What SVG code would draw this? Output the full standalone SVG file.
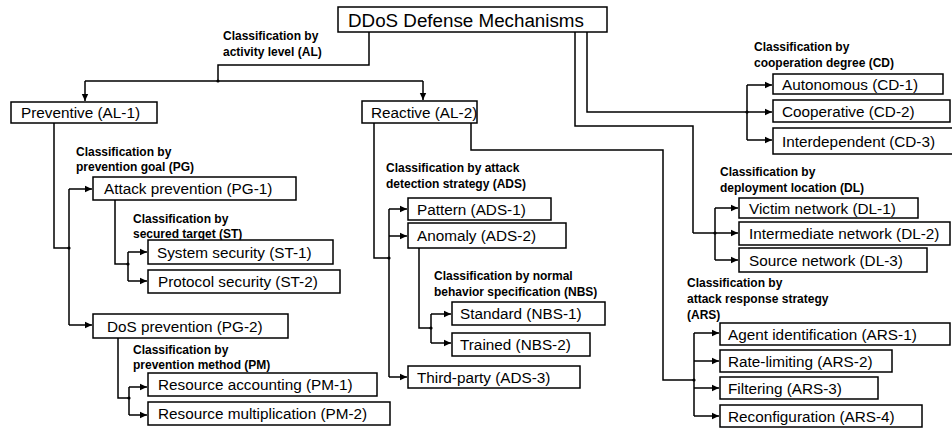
<svg xmlns="http://www.w3.org/2000/svg" width="952" height="430" viewBox="0 0 952 430">
<defs>
<marker id="ah" markerWidth="8" markerHeight="8" refX="7" refY="4" orient="auto" markerUnits="userSpaceOnUse">
<path d="M0,0.8 L7,4 L0,7.2 Z" fill="#000"/>
</marker>
<style>
.b{fill:#fff;stroke:#000;stroke-width:1.5}
.t{font-family:"Liberation Sans",Arial,sans-serif;font-size:15.3px;fill:#000}
.r{font-family:"Liberation Sans",Arial,sans-serif;font-size:18.8px;fill:#000}
.l{font-family:"Liberation Sans",Arial,sans-serif;font-size:12px;font-weight:bold;fill:#000}
.c{fill:none;stroke:#000;stroke-width:1.5}
.a{fill:none;stroke:#000;stroke-width:1.5;marker-end:url(#ah)}
</style>
</defs>
<rect width="952" height="430" fill="#fff"/>
<g id="connectors">
<path class="c" d="M369,32 V65 H218 V81 M85,81 H423"/>
<path class="a" d="M85,81 V101"/>
<path class="a" d="M423,81 V100"/>
<circle cx="218" cy="81" r="1.6"/>
<path class="c" d="M587,32 V112 H747 M747,85 V140"/>
<path class="a" d="M747,85 H772"/>
<path class="a" d="M747,112 H772"/>
<path class="a" d="M747,140 H772"/>
<circle cx="747" cy="112" r="1.6"/>
<path class="c" d="M575,32 V126 H693 V233 M715,208 V260"/>
<path class="a" d="M693,233 H738"/>
<path class="a" d="M715,208 H738"/>
<path class="a" d="M715,260 H738"/>
<circle cx="715" cy="233" r="1.6"/>
<path class="c" d="M54,123 V248 H69 M69,189 V325"/>
<path class="a" d="M69,189 H92"/>
<path class="a" d="M69,325 H92"/>
<circle cx="69" cy="248" r="1.6"/>
<path class="c" d="M115,200 V264 H128 M128,252 V281"/>
<path class="a" d="M128,252 H147"/>
<path class="a" d="M128,281 H147"/>
<circle cx="128" cy="264" r="1.6"/>
<path class="c" d="M118,338 V398 H129 M129,387 V415"/>
<path class="a" d="M129,387 H147"/>
<path class="a" d="M129,415 H147"/>
<circle cx="129" cy="398" r="1.6"/>
<path class="c" d="M374,123 V258 H389 M389,209 V377"/>
<path class="a" d="M389,209 H407"/>
<path class="a" d="M389,236 H407"/>
<path class="a" d="M389,377 H407"/>
<circle cx="389" cy="258" r="1.6"/>
<path class="c" d="M419,248 V328 H431 M431,314 V343"/>
<path class="a" d="M431,314 H451"/>
<path class="a" d="M431,343 H451"/>
<circle cx="431" cy="328" r="1.6"/>
<path class="c" d="M471,123 V150 H663 V380 H694 M694,333 V416"/>
<path class="a" d="M694,333 H719"/>
<path class="a" d="M694,361 H719"/>
<path class="a" d="M694,388 H719"/>
<path class="a" d="M694,416 H719"/>
<circle cx="694" cy="380" r="1.6"/>
</g>
<g id="labels">
<text class="l" x="223" y="40">Classification by</text>
<text class="l" x="223" y="56">activity level (AL)</text>
<text class="l" x="754" y="51">Classification by</text>
<text class="l" x="754" y="67">cooperation degree (CD)</text>
<text class="l" x="76" y="156">Classification by</text>
<text class="l" x="76" y="171">prevention goal (PG)</text>
<text class="l" x="133" y="223">Classification by</text>
<text class="l" x="133" y="238">secured target (ST)</text>
<text class="l" x="133" y="354">Classification by</text>
<text class="l" x="133" y="369">prevention method (PM)</text>
<text class="l" x="386" y="172">Classification by attack</text>
<text class="l" x="386" y="188">detection strategy (ADS)</text>
<text class="l" x="434" y="280">Classification by normal</text>
<text class="l" x="434" y="296">behavior specification (NBS)</text>
<text class="l" x="720" y="176">Classification by</text>
<text class="l" x="720" y="192">deployment location (DL)</text>
<text class="l" x="687" y="287">Classification by</text>
<text class="l" x="687" y="303">attack response strategy</text>
<text class="l" x="687" y="319">(ARS)</text>
</g>
<g id="root"><rect class="b" x="338" y="7" width="269" height="25"/><text class="r" x="348" y="26.5">DDoS Defense Mechanisms</text></g>
<g id="AL-1"><rect class="b" x="11" y="102" width="146" height="21"/><text class="t" x="21" y="118">Preventive (AL-1)</text></g>
<g id="AL-2"><rect class="b" x="362" y="101" width="115" height="22"/><text class="t" x="371" y="117.5">Reactive (AL-2)</text></g>
<g id="PG-1"><rect class="b" x="93" y="177" width="203" height="23"/><text class="t" x="104" y="194">Attack prevention (PG-1)</text></g>
<g id="ST-1"><rect class="b" x="148" y="240" width="185" height="24"/><text class="t" x="157" y="257.5">System security (ST-1)</text></g>
<g id="ST-2"><rect class="b" x="148" y="270" width="192" height="23"/><text class="t" x="158" y="287">Protocol security (ST-2)</text></g>
<g id="PG-2"><rect class="b" x="93" y="314" width="195" height="24"/><text class="t" x="107" y="331.5">DoS prevention (PG-2)</text></g>
<g id="PM-1"><rect class="b" x="148" y="373" width="229" height="23"/><text class="t" x="158" y="390">Resource accounting (PM-1)</text></g>
<g id="PM-2"><rect class="b" x="148" y="402" width="242" height="23"/><text class="t" x="158" y="419">Resource multiplication (PM-2)</text></g>
<g id="ADS-1"><rect class="b" x="408" y="198" width="143" height="22"/><text class="t" x="417" y="214.5">Pattern (ADS-1)</text></g>
<g id="ADS-2"><rect class="b" x="408" y="223" width="158" height="25"/><text class="t" x="417" y="241">Anomaly (ADS-2)</text></g>
<g id="NBS-1"><rect class="b" x="452" y="302" width="153" height="23"/><text class="t" x="460" y="319">Standard (NBS-1)</text></g>
<g id="NBS-2"><rect class="b" x="452" y="333" width="138" height="23"/><text class="t" x="460" y="350">Trained (NBS-2)</text></g>
<g id="ADS-3"><rect class="b" x="408" y="366" width="172" height="22"/><text class="t" x="417" y="382.5">Third-party (ADS-3)</text></g>
<g id="CD-1"><rect class="b" x="773" y="74" width="170" height="20"/><text class="t" x="782" y="89.5">Autonomous (CD-1)</text></g>
<g id="CD-2"><rect class="b" x="773" y="100" width="177" height="22"/><text class="t" x="782" y="116.5">Cooperative (CD-2)</text></g>
<g id="CD-3"><rect class="b" x="773" y="128" width="185" height="26"/><text class="t" x="782" y="146.5">Interdependent (CD-3)</text></g>
<g id="DL-1"><rect class="b" x="739" y="198" width="179" height="20"/><text class="t" x="749" y="213.5">Victim network (DL-1)</text></g>
<g id="DL-2"><rect class="b" x="739" y="222" width="211" height="23"/><text class="t" x="749" y="239">Intermediate network (DL-2)</text></g>
<g id="DL-3"><rect class="b" x="739" y="248" width="188" height="24"/><text class="t" x="749" y="265.5">Source network (DL-3)</text></g>
<g id="ARS-1"><rect class="b" x="720" y="323" width="230" height="22"/><text class="t" x="728" y="339.5">Agent identification (ARS-1)</text></g>
<g id="ARS-2"><rect class="b" x="720" y="350" width="172" height="22"/><text class="t" x="728" y="366.5">Rate-limiting (ARS-2)</text></g>
<g id="ARS-3"><rect class="b" x="720" y="377" width="158" height="22"/><text class="t" x="728" y="393.5">Filtering (ARS-3)</text></g>
<g id="ARS-4"><rect class="b" x="720" y="405" width="202" height="22"/><text class="t" x="728" y="421.5">Reconfiguration (ARS-4)</text></g>
</svg>
